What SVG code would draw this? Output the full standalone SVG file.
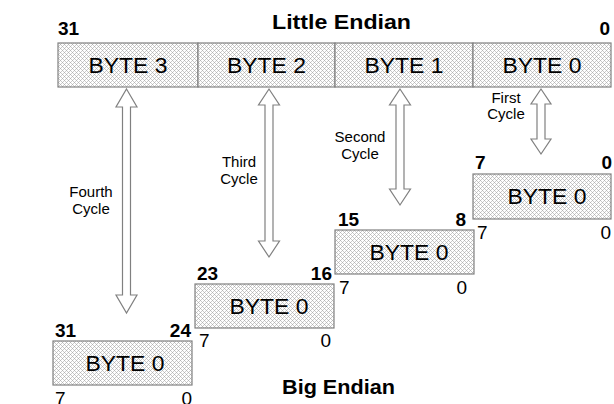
<svg xmlns="http://www.w3.org/2000/svg" width="614" height="404" viewBox="0 0 614 404">
<defs>
<pattern id="dots" width="4" height="4" patternUnits="userSpaceOnUse">
<rect width="4" height="4" fill="#ffffff"/>
<rect x="0" y="0" width="1" height="1" fill="#b4b4b4"/>
<rect x="1" y="1" width="1" height="1" fill="#cccccc"/>
<rect x="2" y="2" width="1" height="1" fill="#b4b4b4"/>
<rect x="3" y="3" width="1" height="1" fill="#cccccc"/>
<rect x="3" y="1" width="1" height="1" fill="#cccccc"/>
<rect x="1" y="3" width="1" height="1" fill="#cccccc"/>
</pattern>
</defs>
<style>
.cell{fill:url(#dots);stroke:#808080;stroke-width:1.2}
.byte{font-family:"Liberation Sans",Arial,sans-serif;font-size:22px;fill:#000;text-anchor:middle}
.num{font-family:"Liberation Sans",Arial,sans-serif;font-size:19px;font-weight:bold;fill:#000}
.bit{font-family:"Liberation Sans",Arial,sans-serif;font-size:19px;fill:#000}
.title{font-family:"Liberation Sans",Arial,sans-serif;font-size:21px;font-weight:bold;fill:#000}
.cyc{font-family:"Liberation Sans",Arial,sans-serif;font-size:15px;fill:#000;text-anchor:middle}
.arr{fill:#fff;stroke:#808080;stroke-width:1.2}
.end{text-anchor:end}
</style>
<rect width="614" height="404" fill="#fff"/>

<g id="little-endian">
<text class="title" x="272" y="29" textLength="139" lengthAdjust="spacingAndGlyphs">Little Endian</text>
<text class="num" x="58" y="35">31</text>
<text class="num end" x="610" y="35">0</text>
<g id="le-byte3"><rect class="cell" x="58" y="43" width="140" height="44"/><text class="byte" x="128" y="73" textLength="79" lengthAdjust="spacingAndGlyphs">BYTE 3</text></g>
<g id="le-byte2"><rect class="cell" x="198" y="43" width="137" height="44"/><text class="byte" x="266.5" y="73" textLength="79" lengthAdjust="spacingAndGlyphs">BYTE 2</text></g>
<g id="le-byte1"><rect class="cell" x="335" y="43" width="138" height="44"/><text class="byte" x="404" y="73" textLength="79" lengthAdjust="spacingAndGlyphs">BYTE 1</text></g>
<g id="le-byte0"><rect class="cell" x="473" y="43" width="138" height="44"/><text class="byte" x="542" y="73" textLength="79" lengthAdjust="spacingAndGlyphs">BYTE 0</text></g>
</g>

<g id="be-box-7-0">
<text class="num" x="475" y="169">7</text>
<text class="num end" x="612" y="169">0</text>
<rect class="cell" x="473" y="174" width="138" height="45"/>
<text class="byte" x="547" y="204" textLength="79" lengthAdjust="spacingAndGlyphs">BYTE 0</text>
<text class="bit" x="477" y="239">7</text>
<text class="bit end" x="611" y="239">0</text>
</g>

<g id="be-box-15-8">
<text class="num" x="338" y="226">15</text>
<text class="num end" x="466" y="226">8</text>
<rect class="cell" x="335" y="230" width="139" height="44"/>
<text class="byte" x="409" y="260" textLength="79" lengthAdjust="spacingAndGlyphs">BYTE 0</text>
<text class="bit" x="339" y="294">7</text>
<text class="bit end" x="467" y="294">0</text>
</g>

<g id="be-box-23-16">
<text class="num" x="197" y="280">23</text>
<text class="num end" x="332" y="280">16</text>
<rect class="cell" x="195" y="284" width="139" height="44"/>
<text class="byte" x="269" y="314" textLength="79" lengthAdjust="spacingAndGlyphs">BYTE 0</text>
<text class="bit" x="199" y="347">7</text>
<text class="bit end" x="331" y="347">0</text>
</g>

<g id="be-box-31-24">
<text class="num" x="55" y="337">31</text>
<text class="num end" x="191" y="337">24</text>
<rect class="cell" x="53" y="341" width="139" height="44"/>
<text class="byte" x="125" y="371" textLength="79" lengthAdjust="spacingAndGlyphs">BYTE 0</text>
<text class="bit" x="55" y="405">7</text>
<text class="bit end" x="192" y="405">0</text>
</g>

<g id="big-endian-label">
<text class="title" x="282" y="394" textLength="113" lengthAdjust="spacingAndGlyphs">Big Endian</text>
</g>

<g id="connectors">
<polygon class="arr" points="126.5,89 137,107 130.5,107 130.5,295 137,295 126.5,313 116,295 122.5,295 122.5,107 116,107"/>
<polygon class="arr" points="269,89 279.5,105 273,105 273,241 279.5,241 269,257 258.5,241 265,241 265,105 258.5,105"/>
<polygon class="arr" points="400,89 410.5,105 404,105 404,189 410.5,189 400,205 389.5,189 396,189 396,105 389.5,105"/>
<polygon class="arr" points="541,89 551,104 545,104 545,139 551,139 541,154 531,139 537,139 537,104 531,104"/>
<text class="cyc" x="91" y="197">Fourth</text>
<text class="cyc" x="91" y="214">Cycle</text>
<text class="cyc" x="239" y="167">Third</text>
<text class="cyc" x="239" y="184">Cycle</text>
<text class="cyc" x="360" y="142">Second</text>
<text class="cyc" x="360" y="159">Cycle</text>
<text class="cyc" x="506" y="103">First</text>
<text class="cyc" x="506" y="119">Cycle</text>
</g>
</svg>
